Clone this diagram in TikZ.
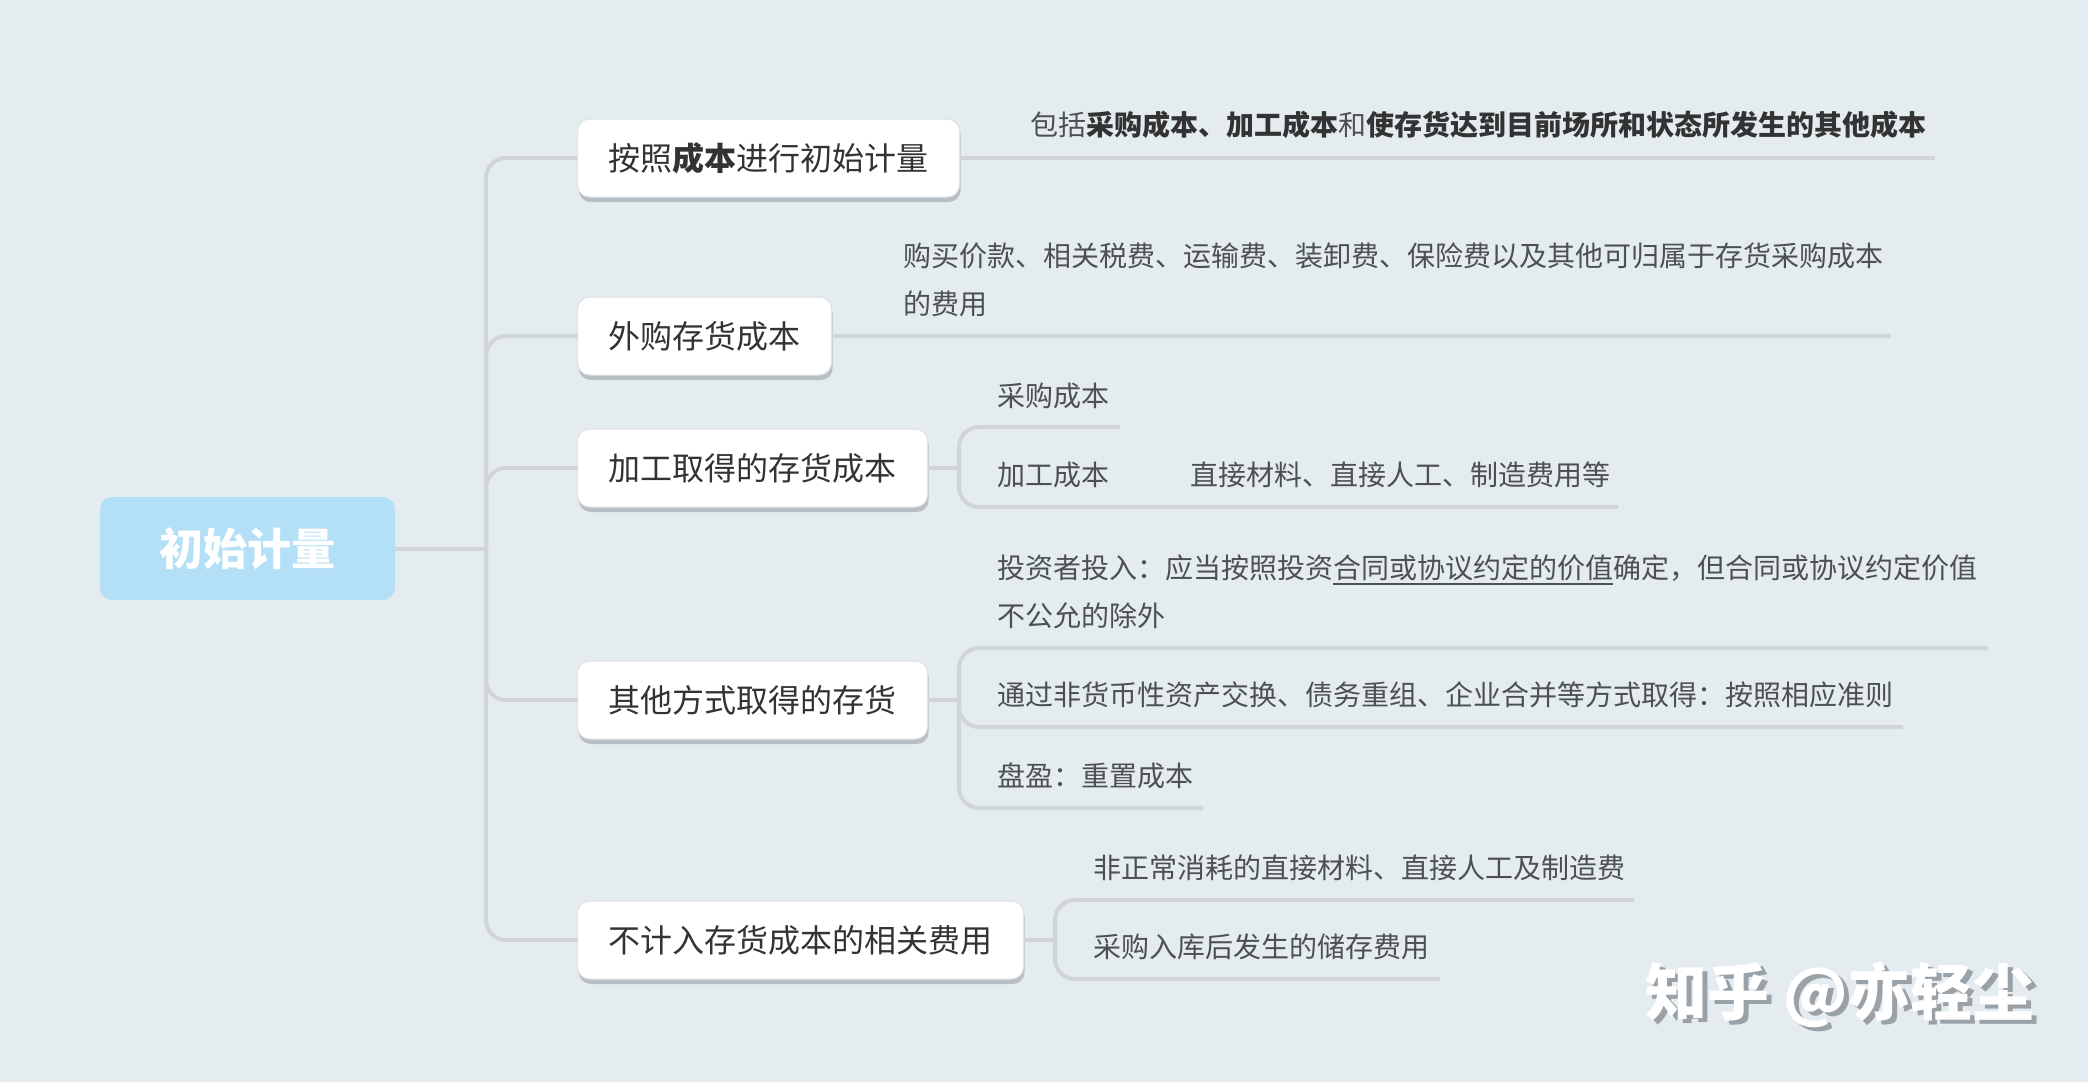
\documentclass[tikz,border=0pt]{standalone}
\usepackage{fontspec}
\setmainfont{Noto Sans CJK SC}
\usetikzlibrary{shadows}
\definecolor{bg}{HTML}{E4ECF0}
\definecolor{ln}{HTML}{CFD5DA}
\definecolor{rootc}{HTML}{B3E0F6}
\definecolor{tx}{HTML}{333333}
\definecolor{ctx}{HTML}{4B5055}
\definecolor{shd}{HTML}{9AA2A8}
\newcommand\boldpart[1]{\textbf{\color{tx}#1}}
\newcommand\myul[1]{\setbox0\hbox{#1}\rlap{\raisebox{-3pt}{\rule{\wd0}{0.8pt}}}\box0}
\newcommand\shadowtext[1]{\rlap{\hspace{2.5pt}\raisebox{-2pt}{\color{shd}#1}}{\color{white}#1}}
\begin{document}
\begin{tikzpicture}[x=0.5pt,y=-0.5pt,
  conn/.style={draw=ln,line width=2pt,rounded corners=10pt},
  rootbox/.style={fill=rootc,rounded corners=6pt,minimum width=147.5pt,minimum height=51.5pt,inner sep=0pt,text=white,font=\bfseries\fontsize{22}{22}\selectfont},
  topbox/.style={draw=ln!70,line width=0.5pt,fill=white,rounded corners=6pt,inner xsep=15.5pt,inner ysep=0pt,minimum height=39pt,anchor=west,text=tx,font=\fontsize{16}{16}\selectfont,drop shadow={shadow xshift=0.6pt,shadow yshift=-2.5pt,fill=shd,opacity=0.6}},
  leaf/.style={anchor=base west,inner sep=0pt,text=ctx,font=\fontsize{14}{14}\selectfont},
  wmark/.style={anchor=west,inner sep=0pt,font=\bfseries\fontsize{31}{31}\selectfont},
]
\useasboundingbox (0,0) rectangle (2088,1082);
\fill[bg] (0,0) rectangle (2088,1082);

% root and main topics
\node[rootbox] (root) at (247.5,548.5) {初始计量};
\coordinate (sp) at (486,548.5);

\coordinate (e1) at (1935,158);
\coordinate (e2) at (1891,336);
\coordinate (s3) at (959,468);
\coordinate (e31) at (1120,427);
\coordinate (e32) at (1618,507);
\coordinate (s4) at (959,700);
\coordinate (e41) at (1988,648);
\coordinate (e42) at (1903,727);
\coordinate (e43) at (1203,808);
\coordinate (s5) at (1055,940);
\coordinate (e51) at (1634,900);
\coordinate (e52) at (1440,979);

\node[topbox] (b1) at (577,158) {按照\textbf{成本}进行初始计量};
\node[topbox] (b2) at (577,336) {外购存货成本};
\node[topbox] (b3) at (577,468) {加工取得的存货成本};
\node[topbox] (b4) at (577,700) {其他方式取得的存货};
\node[topbox] (b5) at (577,940) {不计入存货成本的相关费用};

% spine
\draw[conn] (root.east) -- (sp);
\foreach \b in {b1,b2,b3,b4,b5} \draw[conn] (sp) |- (\b.west);

% branch 1
\draw[conn] (b1.east) -- (e1);
\node[leaf] (c1) at (1030,135.6) {包括\boldpart{采购成本、加工成本}和\boldpart{使存货达到目前场所和状态所发生的其他成本}};

% branch 2
\draw[conn] (b2.east) -- (e2);
\node[leaf] (c2a) at (903,266.6) {购买价款、相关税费、运输费、装卸费、保险费以及其他可归属于存货采购成本};
\node[leaf] (c2b) at (903,314.6) {的费用};

% branch 3
\draw[conn] (b3.east) -- (s3);
\draw[conn] (s3) |- (e31);
\draw[conn] (s3) |- (e32);
\node[leaf] (c31) at (997,406.6) {采购成本};
\node[leaf] (c32) at (997,485.6) {加工成本};
\node[leaf] (c33) at (1190,485.6) {直接材料、直接人工、制造费用等};

% branch 4
\draw[conn] (b4.east) -- (s4);
\draw[conn] (s4) |- (e41);
\draw[conn] (s4) |- (e42);
\draw[conn] (s4) |- (e43);
\node[leaf] (c41a) at (997,578.6) {投资者投入：应当按照投资\myul{合同或协议约定的价值}确定，但合同或协议约定价值};
\node[leaf] (c41b) at (997,626.6) {不公允的除外};
\node[leaf] (c42) at (997,705.6) {通过非货币性资产交换、债务重组、企业合并等方式取得：按照相应准则};
\node[leaf] (c43) at (997,786.6) {盘盈：重置成本};

% branch 5
\draw[conn] (b5.east) -- (s5);
\draw[conn] (s5) |- (e51);
\draw[conn] (s5) |- (e52);
\node[leaf] (c51) at (1093,878.6) {非正常消耗的直接材料、直接人工及制造费};
\node[leaf] (c52) at (1093,957.6) {采购入库后发生的储存费用};

% watermark
\node[wmark] (wm) at (1645,997) {\shadowtext{知乎 @亦轻尘}};
\end{tikzpicture}
\end{document}
